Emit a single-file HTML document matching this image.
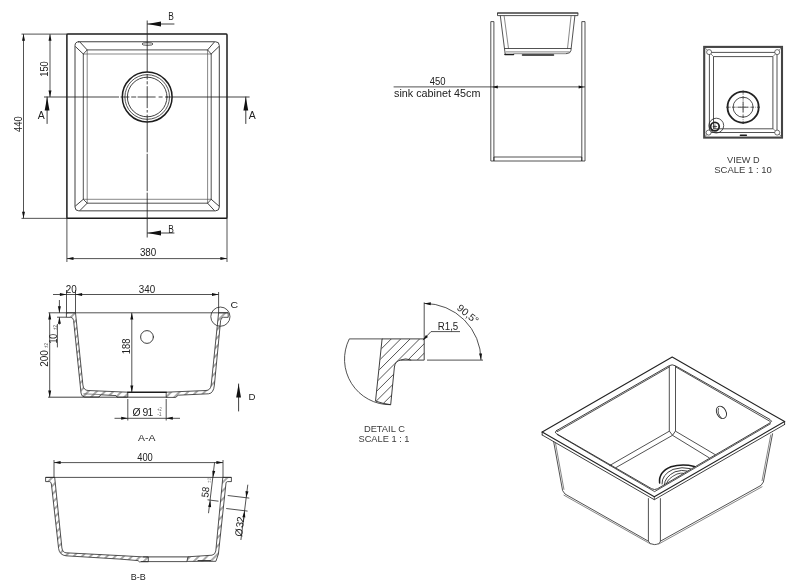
<!DOCTYPE html>
<html lang="en">
<head>
<meta charset="utf-8">
<title>Sink technical drawing</title>
<style>
html,body{margin:0;padding:0;background:#fff;}
body{width:800px;height:584px;overflow:hidden;}
svg{display:block;font-family:"Liberation Sans","DejaVu Sans",sans-serif;font-size:10px;filter:blur(0.3px);}
.k{fill:none;stroke:#1c1c1c;stroke-width:1.5;stroke-linejoin:round;stroke-linecap:round}
.m{fill:none;stroke:#2a2a2a;stroke-width:0.9;stroke-linejoin:round;stroke-linecap:round}
.r{fill:none;stroke:#222;stroke-width:1.1;stroke-linejoin:round;stroke-linecap:round}
.t{fill:none;stroke:#262626;stroke-width:0.8;stroke-linejoin:round}
.g{fill:none;stroke:#555;stroke-width:0.7;stroke-linejoin:round}
.h{fill:none;stroke:#2a2a2a;stroke-width:0.8}
.c{fill:none;stroke:#222;stroke-width:0.85}
.ah{fill:#111;stroke:none}
.tx{fill:#222;stroke:none}
.ts{fill:#666;stroke:none;font-size:4.5px}
.sec{fill:url(#hat)}
.secc{fill:url(#hatc)}
.l{fill:#3a3a3a}
</style>
</head>
<body>
<svg width="800" height="584" viewBox="0 0 800 584">
<g id="top-view">
<rect class="k" x="66.90" y="34.10" width="160.10" height="184.25" rx="0.8"/>
<rect class="m" x="75.00" y="41.75" width="144.30" height="169.10" rx="3.8"/>
<line class="t" x1="87.20" y1="49.90" x2="207.60" y2="49.90"/>
<line class="g" x1="83.30" y1="54.00" x2="211.20" y2="54.00"/>
<line class="t" x1="87.20" y1="203.20" x2="207.60" y2="203.20"/>
<line class="g" x1="83.30" y1="199.30" x2="211.20" y2="199.30"/>
<line class="t" x1="83.30" y1="54.00" x2="83.30" y2="199.30"/>
<line class="g" x1="87.20" y1="49.90" x2="87.20" y2="203.20"/>
<line class="t" x1="211.20" y1="54.00" x2="211.20" y2="199.30"/>
<line class="g" x1="207.60" y1="49.90" x2="207.60" y2="203.20"/>
<line class="m" x1="75.60" y1="46.75" x2="83.30" y2="54.00"/>
<line class="m" x1="80.20" y1="42.35" x2="87.20" y2="49.90"/>
<line class="t" x1="83.30" y1="54.00" x2="87.20" y2="49.90"/>
<line class="m" x1="218.70" y1="46.75" x2="211.20" y2="54.00"/>
<line class="m" x1="214.10" y1="42.35" x2="207.60" y2="49.90"/>
<line class="t" x1="211.20" y1="54.00" x2="207.60" y2="49.90"/>
<line class="m" x1="75.60" y1="205.85" x2="83.30" y2="199.30"/>
<line class="m" x1="80.20" y1="210.25" x2="87.20" y2="203.20"/>
<line class="t" x1="83.30" y1="199.30" x2="87.20" y2="203.20"/>
<line class="m" x1="218.70" y1="205.85" x2="211.20" y2="199.30"/>
<line class="m" x1="214.10" y1="210.25" x2="207.60" y2="203.20"/>
<line class="t" x1="211.20" y1="199.30" x2="207.60" y2="203.20"/>
<circle class="k" cx="147.20" cy="97.00" r="24.90"/>
<circle class="t" cx="147.20" cy="97.00" r="22.30"/>
<circle class="m" cx="147.20" cy="97.00" r="19.80"/>
<ellipse class="t" cx="147.5" cy="44" rx="5.5" ry="1.3"/>
<line class="c" x1="147.20" y1="20.50" x2="147.20" y2="72.50"/>
<line class="c" x1="147.20" y1="74.00" x2="147.20" y2="79.50"/>
<line class="c" x1="147.20" y1="81.20" x2="147.20" y2="84.40"/>
<line class="c" x1="147.20" y1="86.20" x2="147.20" y2="108.10"/>
<line class="c" x1="147.20" y1="110.00" x2="147.20" y2="112.60"/>
<line class="c" x1="147.20" y1="114.60" x2="147.20" y2="152.40"/>
<line class="c" x1="147.20" y1="153.80" x2="147.20" y2="191.20"/>
<line class="c" x1="147.20" y1="192.60" x2="147.20" y2="237.50"/>
<line class="c" x1="44.00" y1="97.00" x2="119.00" y2="97.00"/>
<line class="c" x1="120.50" y1="97.00" x2="129.40" y2="97.00"/>
<line class="c" x1="131.20" y1="97.00" x2="136.20" y2="97.00"/>
<line class="c" x1="137.60" y1="97.00" x2="155.60" y2="97.00"/>
<line class="c" x1="158.60" y1="97.00" x2="162.60" y2="97.00"/>
<line class="c" x1="165.00" y1="97.00" x2="249.60" y2="97.00"/>
<line class="t" x1="21.50" y1="34.10" x2="67.00" y2="34.10"/>
<line class="t" x1="21.50" y1="218.35" x2="67.00" y2="218.35"/>
<line class="t" x1="23.50" y1="34.10" x2="23.50" y2="218.35"/>
<polygon class="ah" points="23.50,34.10 25.00,40.70 22.00,40.70"/>
<polygon class="ah" points="23.50,218.35 22.00,211.75 25.00,211.75"/>
<text class="tx" x="21.70" y="124.20" text-anchor="middle" textLength="15.60" lengthAdjust="spacingAndGlyphs" transform="rotate(-90 21.70 124.20)">440</text>
<line class="t" x1="50.00" y1="34.20" x2="50.00" y2="97.00"/>
<polygon class="ah" points="50.00,34.20 51.50,40.80 48.50,40.80"/>
<polygon class="ah" points="50.00,97.00 48.50,90.40 51.50,90.40"/>
<text class="tx" x="47.80" y="69.00" text-anchor="middle" textLength="15.60" lengthAdjust="spacingAndGlyphs" transform="rotate(-90 47.80 69.00)">150</text>
<line class="t" x1="66.90" y1="218.20" x2="66.90" y2="262.00"/>
<line class="t" x1="227.00" y1="218.20" x2="227.00" y2="262.00"/>
<line class="t" x1="66.90" y1="258.60" x2="227.00" y2="258.60"/>
<polygon class="ah" points="66.90,258.60 73.50,257.10 73.50,260.10"/>
<polygon class="ah" points="227.00,258.60 220.40,260.10 220.40,257.10"/>
<text class="tx" x="148.10" y="256.20" text-anchor="middle" textLength="16.40" lengthAdjust="spacingAndGlyphs">380</text>
<line class="m" x1="47.10" y1="97.00" x2="47.10" y2="123.50"/>
<polygon class="ah" points="47.10,97.00 49.50,110.50 44.70,110.50"/>
<text class="tx" x="41.30" y="119.30" text-anchor="middle" textLength="7.00" lengthAdjust="spacingAndGlyphs" font-size="10">A</text>
<line class="m" x1="245.80" y1="97.00" x2="245.80" y2="123.50"/>
<polygon class="ah" points="245.80,97.00 248.20,110.50 243.40,110.50"/>
<text class="tx" x="252.30" y="119.30" text-anchor="middle" textLength="7.00" lengthAdjust="spacingAndGlyphs" font-size="10">A</text>
<line class="m" x1="147.50" y1="24.00" x2="174.00" y2="24.00"/>
<polygon class="ah" points="147.50,24.00 161.00,21.60 161.00,26.40"/>
<text class="tx" x="171.00" y="19.90" text-anchor="middle" textLength="5.60" lengthAdjust="spacingAndGlyphs" font-size="10">B</text>
<line class="m" x1="147.50" y1="233.00" x2="174.00" y2="233.00"/>
<polygon class="ah" points="147.50,233.00 161.00,230.60 161.00,235.40"/>
<text class="tx" x="171.00" y="232.70" text-anchor="middle" textLength="5.60" lengthAdjust="spacingAndGlyphs" font-size="10">B</text>
</g>
<g id="cabinet">
<rect class="t" x="490.80" y="21.60" width="3.10" height="139.40" rx="0"/>
<rect class="t" x="581.80" y="21.60" width="3.20" height="139.40" rx="0"/>
<rect class="t" x="493.90" y="157.00" width="87.90" height="4.00" rx="0"/>
<line class="t" x1="393.60" y1="86.90" x2="585.00" y2="86.90"/>
<polygon class="ah" points="492.20,86.90 497.80,85.40 497.80,88.40"/>
<polygon class="ah" points="584.20,86.90 578.60,88.40 578.60,85.40"/>
<text class="tx" x="437.60" y="85.20" text-anchor="middle" textLength="15.80" lengthAdjust="spacingAndGlyphs">450</text>
<text class="tx" x="437.20" y="97.30" text-anchor="middle" textLength="86.40" lengthAdjust="spacingAndGlyphs">sink cabinet 45cm</text>
<rect class="t" x="497.50" y="13.00" width="80.40" height="2.60" rx="0"/>
<line class="m" x1="497.50" y1="13.00" x2="577.90" y2="13.00"/>
<path class="t" d="M500.30 15.60 L504.90 51.90 L505.30 55.00"/>
<path class="t" d="M574.90 15.60 L570.90 50.70 L569.60 52.80 L566.00 53.70"/>
<path class="g" d="M504.10 15.60 L508.50 48.50"/>
<path class="g" d="M571.10 15.60 L567.50 48.50"/>
<path class="t" d="M504.50 48.50 L571.20 48.50"/>
<path class="g" d="M505.60 51.90 L569.80 51.90"/>
<path class="g" d="M513.50 53.70 L566.00 53.70"/>
<line class="k" x1="505.00" y1="54.60" x2="513.50" y2="54.60"/>
<line class="k" x1="522.50" y1="55.10" x2="553.50" y2="55.10"/>
</g>
<g id="view-d">
<rect x="704.2" y="46.9" width="77.8" height="90.7" fill="none" stroke="#444" stroke-width="2.1"/>
<rect class="t" x="709.40" y="52.40" width="67.60" height="80.10" rx="0"/>
<rect class="t" x="713.50" y="56.60" width="59.40" height="72.20" rx="0"/>
<line class="g" x1="704.40" y1="47.10" x2="713.50" y2="56.60"/>
<circle cx="709.10" cy="52.10" r="2.5" fill="#fff" stroke="#333" stroke-width="0.7"/>
<line class="g" x1="782.10" y1="47.10" x2="772.90" y2="56.60"/>
<circle cx="777.20" cy="52.10" r="2.5" fill="#fff" stroke="#333" stroke-width="0.7"/>
<line class="g" x1="704.40" y1="137.00" x2="713.50" y2="128.60"/>
<circle cx="708.60" cy="132.60" r="2.5" fill="#fff" stroke="#333" stroke-width="0.7"/>
<line class="g" x1="782.10" y1="137.00" x2="772.90" y2="128.60"/>
<circle cx="777.20" cy="132.60" r="2.5" fill="#fff" stroke="#333" stroke-width="0.7"/>
<circle cx="743.10" cy="107.20" r="15.6" fill="none" stroke="#222" stroke-width="1.8"/>
<circle class="t" cx="743.10" cy="107.20" r="10.00"/>
<line class="t" x1="737.90" y1="107.20" x2="748.30" y2="107.20"/>
<line class="t" x1="743.10" y1="102.00" x2="743.10" y2="112.40"/>
<path d="M726.90 107.20 H759.30 M743.10 91.00 V123.40" fill="none" stroke="#666" stroke-width="0.6" stroke-dasharray="4 1.2 1.2 1.2"/>
<line class="t" x1="757.10" y1="107.20" x2="759.90" y2="107.20"/>
<line class="t" x1="751.50" y1="107.20" x2="753.70" y2="107.20"/>
<line class="t" x1="743.10" y1="121.20" x2="743.10" y2="124.00"/>
<line class="t" x1="743.10" y1="115.60" x2="743.10" y2="117.80"/>
<line class="t" x1="729.10" y1="107.20" x2="726.30" y2="107.20"/>
<line class="t" x1="734.70" y1="107.20" x2="732.50" y2="107.20"/>
<line class="t" x1="743.10" y1="93.20" x2="743.10" y2="90.40"/>
<line class="t" x1="743.10" y1="98.80" x2="743.10" y2="96.60"/>
<circle class="t" cx="716.30" cy="125.60" r="7.40"/>
<circle cx="714.9" cy="126.6" r="4.3" fill="none" stroke="#222" stroke-width="1.8"/>
<line class="t" x1="712.70" y1="126.60" x2="717.10" y2="126.60"/>
<line class="t" x1="714.90" y1="124.40" x2="714.90" y2="128.80"/>
<line class="k" x1="740.40" y1="135.20" x2="746.40" y2="135.20"/>
<text class="tx l" x="743.40" y="162.70" text-anchor="middle" textLength="32.60" lengthAdjust="spacingAndGlyphs" font-size="9.6">VIEW D</text>
<text class="tx l" x="743.00" y="172.60" text-anchor="middle" textLength="57.60" lengthAdjust="spacingAndGlyphs" font-size="9.6">SCALE 1 : 10</text>
</g>
<g id="section-aa">
<defs><pattern id="hat" width="5.9" height="5.9" patternUnits="userSpaceOnUse" patternTransform="rotate(-45)"><line x1="0" y1="2.95" x2="5.9" y2="2.95" stroke="#2a2a2a" stroke-width="0.8"/></pattern><pattern id="hatc" width="6.2" height="6.2" patternUnits="userSpaceOnUse" patternTransform="rotate(-45)"><line x1="0" y1="3.1" x2="6.2" y2="3.1" stroke="#333" stroke-width="0.6"/></pattern></defs>
<line class="t" x1="53.00" y1="294.50" x2="218.60" y2="294.50"/>
<line class="t" x1="66.50" y1="290.00" x2="66.50" y2="312.80"/>
<line class="t" x1="75.50" y1="290.00" x2="75.50" y2="312.80"/>
<line class="t" x1="218.60" y1="292.00" x2="218.60" y2="312.80"/>
<polygon class="ah" points="66.50,294.50 59.90,296.00 59.90,293.00"/>
<polygon class="ah" points="75.50,294.50 82.10,293.00 82.10,296.00"/>
<polygon class="ah" points="218.60,294.50 212.00,296.00 212.00,293.00"/>
<text class="tx" x="71.20" y="292.80" text-anchor="middle" textLength="11.00" lengthAdjust="spacingAndGlyphs">20</text>
<text class="tx" x="147.00" y="292.80" text-anchor="middle" textLength="16.40" lengthAdjust="spacingAndGlyphs">340</text>
<line class="t" x1="48.50" y1="312.80" x2="228.20" y2="312.80"/>
<line class="t" x1="49.70" y1="312.80" x2="49.70" y2="397.20"/>
<polygon class="ah" points="49.70,312.80 51.20,319.40 48.20,319.40"/>
<polygon class="ah" points="49.70,397.20 48.20,390.60 51.20,390.60"/>
<text class="tx" x="47.80" y="358.50" text-anchor="middle" textLength="16.60" lengthAdjust="spacingAndGlyphs" transform="rotate(-90 47.80 358.50)">200</text>
<text class="ts" x="47.60" y="345.40" text-anchor="middle" textLength="5.00" lengthAdjust="spacingAndGlyphs" transform="rotate(-90 47.60 345.40)">±2</text>
<line class="t" x1="59.40" y1="300.00" x2="59.40" y2="312.80"/>
<polygon class="ah" points="59.40,312.80 57.90,306.20 60.90,306.20"/>
<line class="t" x1="59.40" y1="317.20" x2="59.40" y2="324.50"/>
<polygon class="ah" points="59.40,317.20 60.90,323.80 57.90,323.80"/>
<line class="t" x1="57.40" y1="324.00" x2="57.40" y2="347.40"/>
<line class="t" x1="57.00" y1="317.20" x2="66.50" y2="317.20"/>
<text class="tx" x="56.90" y="338.80" text-anchor="middle" textLength="9.60" lengthAdjust="spacingAndGlyphs" transform="rotate(-90 56.90 338.80)">10</text>
<text class="ts" x="56.60" y="327.40" text-anchor="middle" textLength="5.00" lengthAdjust="spacingAndGlyphs" transform="rotate(-90 56.60 327.40)">±2</text>
<line class="t" x1="131.80" y1="312.80" x2="131.80" y2="392.20"/>
<polygon class="ah" points="131.80,312.80 133.30,319.40 130.30,319.40"/>
<polygon class="ah" points="131.80,392.20 130.30,385.60 133.30,385.60"/>
<text class="tx" x="129.60" y="346.40" text-anchor="middle" textLength="15.60" lengthAdjust="spacingAndGlyphs" transform="rotate(-90 129.60 346.40)">188</text>
<circle class="m" cx="147.00" cy="337.00" r="6.40"/>
<path class="t sec" d="M66.4 312.8 L75.5 312.8 L82.9 385 Q83.5 390.3 88.1 390.5 L127.8 392.2 L127.8 397.2 L117 397.2 L116 395.6 L101 394.8 L99 397 L84.6 397 Q81.4 396.6 81.0 393 L73.6 320.5 Q73.2 317.5 70.8 317.3 L66.4 317.3 Z"/>
<line class="g" x1="83.40" y1="393.80" x2="101.00" y2="394.60"/>
<line class="k" x1="127.80" y1="392.20" x2="166.20" y2="392.20"/>
<line class="m" x1="48.50" y1="397.20" x2="166.20" y2="397.20"/>
<path class="t sec" d="M166.2 392.2 L206 390.5 Q210.6 390.3 211.2 385 L218.6 312.8 L228.2 312.8 L228.2 317.3 L223.4 317.3 Q221.0 317.5 220.6 320.5 L214.4 385 Q213.6 393.4 208.5 393.8 L178.2 395.2 L175.7 397.4 L166.2 397.4 Z"/>
<circle class="t" cx="220.40" cy="316.65" r="9.60"/>
<text class="tx" x="234.20" y="307.70" text-anchor="middle" textLength="7.60" lengthAdjust="spacingAndGlyphs" font-size="9.8">C</text>
<line class="m" x1="238.60" y1="384.00" x2="238.60" y2="411.00"/>
<polygon class="ah" points="238.60,384.00 241.00,397.50 236.20,397.50"/>
<text class="tx" x="251.90" y="400.20" text-anchor="middle" textLength="7.00" lengthAdjust="spacingAndGlyphs" font-size="9.8">D</text>
<line class="t" x1="127.80" y1="399.00" x2="127.80" y2="420.50"/>
<line class="t" x1="166.20" y1="399.00" x2="166.20" y2="420.50"/>
<line class="t" x1="114.50" y1="418.30" x2="180.00" y2="418.30"/>
<polygon class="ah" points="127.80,418.30 121.20,419.80 121.20,416.80"/>
<polygon class="ah" points="166.20,418.30 172.80,416.80 172.80,419.80"/>
<text class="tx" transform="translate(132.60 415.80) rotate(0)" x="0.00 9.90 14.90" y="0" font-size="10.4">Ø91</text>
<text class="ts" x="159.40" y="411.00" text-anchor="middle" textLength="4.50" lengthAdjust="spacingAndGlyphs">+2</text>
<text class="ts" x="159.40" y="415.60" text-anchor="middle" textLength="4.50" lengthAdjust="spacingAndGlyphs">-1</text>
<text class="tx" x="146.70" y="441.00" text-anchor="middle" textLength="17.40" lengthAdjust="spacingAndGlyphs" font-size="9.4">A-A</text>
</g>
<g id="section-bb">
<line class="t" x1="54.00" y1="462.60" x2="223.00" y2="462.60"/>
<line class="t" x1="54.00" y1="460.00" x2="54.00" y2="477.40"/>
<line class="t" x1="223.00" y1="460.00" x2="223.00" y2="477.40"/>
<polygon class="ah" points="54.00,462.60 60.60,461.10 60.60,464.10"/>
<polygon class="ah" points="223.00,462.60 216.40,464.10 216.40,461.10"/>
<text class="tx" x="145.00" y="461.00" text-anchor="middle" textLength="15.60" lengthAdjust="spacingAndGlyphs">400</text>
<line class="t" x1="45.60" y1="477.40" x2="231.40" y2="477.40"/>
<path class="t sec" d="M45.6 477.4 L54.7 477.4 L61.9 548 Q62.6 552.4 66.0 552.8 L120 555.6 L143.3 556.9 L148.3 556.9 L148.3 561.7 L141 561.7 L139.7 562.0 L138 560.6 L120 559.1 L66 555.8 Q59.4 555.0 58.6 548.5 L51.4 484 Q51.0 481.8 49.6 481.6 L45.6 481.6 Z"/>
<line class="m" x1="143.30" y1="556.90" x2="188.00" y2="556.90"/>
<line class="t" x1="141.00" y1="561.60" x2="187.00" y2="561.60"/>
<path class="t sec" d="M188 556.8 L212 555.2 Q215.2 554.6 215.8 551 L222.8 477.4 L231.4 477.4 L231.4 481.6 L227.4 481.6 Q226.2 481.8 226.0 483 L218.4 554 L215.9 561.3 L186.9 561.4 Z"/>
<line class="m" x1="198.00" y1="560.50" x2="210.50" y2="560.50"/>
<line class="t" x1="214.60" y1="462.30" x2="208.50" y2="513.20"/>
<polygon class="ah" points="213.00,477.40 212.29,470.67 215.27,471.02"/>
<polygon class="ah" points="210.40,500.40 211.11,507.13 208.13,506.78"/>
<line class="t" x1="207.50" y1="499.80" x2="218.50" y2="501.20"/>
<text class="tx" x="208.80" y="492.60" text-anchor="middle" textLength="10.60" lengthAdjust="spacingAndGlyphs" transform="rotate(-83 208.80 492.60)">58</text>
<text class="ts" x="210.60" y="480.40" text-anchor="middle" textLength="5.00" lengthAdjust="spacingAndGlyphs" transform="rotate(-83 210.60 480.40)">±1</text>
<line class="t" x1="247.80" y1="484.70" x2="240.90" y2="540.00"/>
<line class="t" x1="227.70" y1="495.50" x2="249.30" y2="498.10"/>
<line class="t" x1="226.20" y1="508.50" x2="247.60" y2="511.10"/>
<polygon class="ah" points="246.20,497.80 245.49,491.07 248.47,491.42"/>
<polygon class="ah" points="244.60,510.80 245.31,517.53 242.33,517.18"/>
<text class="tx" transform="translate(241.90 536.90) rotate(-83)" x="0.00 8.90 14.30" y="0" font-size="10.4">Ø32</text>
<text class="tx" x="138.30" y="579.60" text-anchor="middle" textLength="15.00" lengthAdjust="spacingAndGlyphs" font-size="9.4">B-B</text>
</g>
<g id="detail-c">
<clipPath id="clipc"><path d="M382.5 338.9 L424.2 338.9 L424.2 360.1 L400.6 360.1 Q395.2 361.0 394.4 367.0 L390.7 404.7 Q383 403.8 375.9 401.2 Z"/></clipPath>
<g clip-path="url(#clipc)">
<line class="h" x1="360.00" y1="351.34" x2="430.00" y2="281.34"/>
<line class="h" x1="360.00" y1="360.77" x2="430.00" y2="290.77"/>
<line class="h" x1="360.00" y1="370.20" x2="430.00" y2="300.20"/>
<line class="h" x1="360.00" y1="379.63" x2="430.00" y2="309.63"/>
<line class="h" x1="360.00" y1="389.06" x2="430.00" y2="319.06"/>
<line class="h" x1="360.00" y1="398.49" x2="430.00" y2="328.49"/>
<line class="h" x1="360.00" y1="407.92" x2="430.00" y2="337.92"/>
<line class="h" x1="360.00" y1="417.35" x2="430.00" y2="347.35"/>
<line class="h" x1="360.00" y1="426.78" x2="430.00" y2="356.78"/>
<line class="h" x1="360.00" y1="436.21" x2="430.00" y2="366.21"/>
<line class="h" x1="360.00" y1="445.64" x2="430.00" y2="375.64"/>
</g>
<path class="m" d="M382.5 338.9 L424.2 338.9 L424.2 360.1 L400.6 360.1 Q395.2 361.0 394.4 367.0 L390.7 404.7 Q383 403.8 375.9 401.2 Z"/>
<path class="t" d="M400.4 360.1 Q405.6 357.6 411.2 360.1"/>
<path class="t" d="M382.5 338.9 L349.3 338.9 A45.5 45.5 0 0 0 390.7 404.7"/>
<line class="t" x1="424.20" y1="302.40" x2="424.20" y2="338.90"/>
<line class="t" x1="427.00" y1="360.10" x2="483.00" y2="360.10"/>
<path class="t" d="M424.2 303.4 A56.8 56.8 0 0 1 481 360.1"/>
<polygon class="ah" points="424.20,303.40 430.89,302.36 430.68,305.36"/>
<polygon class="ah" points="481.00,360.10 479.04,353.62 482.04,353.41"/>
<text class="tx" x="465.80" y="316.80" text-anchor="middle" textLength="24.50" lengthAdjust="spacingAndGlyphs" transform="rotate(39 465.80 316.80)">90,5°</text>
<text class="tx" x="448.00" y="330.20" text-anchor="middle" textLength="20.50" lengthAdjust="spacingAndGlyphs">R1,5</text>
<line class="t" x1="431.00" y1="331.60" x2="460.00" y2="331.60"/>
<line class="t" x1="431.00" y1="331.60" x2="426.00" y2="336.80"/>
<polygon class="ah" points="422.60,340.40 425.99,335.03 427.97,337.01"/>
<text class="tx l" x="384.40" y="432.20" text-anchor="middle" textLength="41.00" lengthAdjust="spacingAndGlyphs" font-size="9.6">DETAIL C</text>
<text class="tx l" x="384.00" y="442.20" text-anchor="middle" textLength="51.00" lengthAdjust="spacingAndGlyphs" font-size="9.6">SCALE 1 : 1</text>
</g>
<g id="iso">
<path class="r" d="M542.20 432.10 L672.20 357.00 L784.60 421.60"/>
<path class="r" d="M542.20 432.10 L654.30 496.80 L784.60 421.60"/>
<path class="m" d="M542.20 435.00 L654.30 499.70 L784.60 424.50"/>
<line class="m" x1="542.20" y1="432.10" x2="542.20" y2="435.00"/>
<line class="m" x1="784.60" y1="421.60" x2="784.60" y2="424.50"/>
<line class="t" x1="654.30" y1="496.80" x2="654.30" y2="499.70"/>
<path class="m" d="M556.8 430.5 L669.2 365.7 Q672.2 364.0 675.2 365.7 L770.0 419.5 Q773.0 421.2 770.0 422.9 L657.6 488.7 Q654.6 490.4 651.6 488.7 L556.8 433.9 Q553.8 432.2 556.8 430.5 Z"/>
<path class="t" d="M557.00 431.80 L669.40 366.90"/>
<path class="t" d="M675.60 366.90 L770.40 421.60"/>
<path class="t" d="M557.00 434.40 L654.60 491.60 L770.80 423.60"/>
<line class="t" x1="669.30" y1="366.00" x2="669.30" y2="431.00"/>
<line class="t" x1="675.50" y1="366.00" x2="675.50" y2="431.00"/>
<path class="t" d="M669.3 431.0 L672.5 435.3 L675.5 431.0"/>
<path class="t" d="M669.30 431.20 L609.50 465.60"/>
<path class="t" d="M672.50 435.30 L615.60 467.80"/>
<path class="t" d="M675.50 431.20 L715.60 454.90"/>
<path class="t" d="M672.50 435.30 L709.50 458.00"/>
<ellipse class="m" cx="721.4" cy="412.4" rx="4.6" ry="6.6" transform="rotate(-28 721.4 412.4)"/>
<path class="t" d="M718.6 408.2 Q716.8 413.5 721.6 418.2" />
<path class="k" d="M659.6 483.0 Q658.4 472.0 671.0 466.8 Q682.0 463.4 694.4 466.4"/>
<path class="m" d="M662.0 484.0 Q661.6 474.6 673.0 469.4 Q682.0 466.4 690.4 468.6"/>
<path class="m" d="M664.4 484.8 Q664.6 477.0 675.0 471.8 Q682.0 469.4 687.0 471.0"/>
<path class="t" d="M666.6 483.6 Q667.6 478.6 677.0 474.0 Q681.0 472.8 683.6 473.2"/>
<line class="t" x1="648.40" y1="498.20" x2="648.40" y2="541.20"/>
<line class="t" x1="660.40" y1="498.20" x2="660.40" y2="541.20"/>
<path class="t" d="M648.4 541.2 Q649.4 544.4 654.4 544.6 Q659.6 544.4 660.4 541.2"/>
<path class="t" d="M553.60 441.40 L562.60 490.60 L565.00 494.00"/>
<path class="g" d="M555.40 442.60 L564.00 489.80"/>
<path class="t" d="M565.00 494.00 L648.40 541.20"/>
<path class="g" d="M563.60 495.00 L650.60 544.00"/>
<path class="t" d="M772.60 433.40 L763.40 482.00 L761.00 485.40"/>
<path class="g" d="M770.80 434.60 L762.00 481.00"/>
<path class="t" d="M660.40 541.20 L761.00 485.40"/>
<path class="g" d="M658.40 544.20 L762.40 486.60"/>
</g>
</svg>
</body>
</html>
